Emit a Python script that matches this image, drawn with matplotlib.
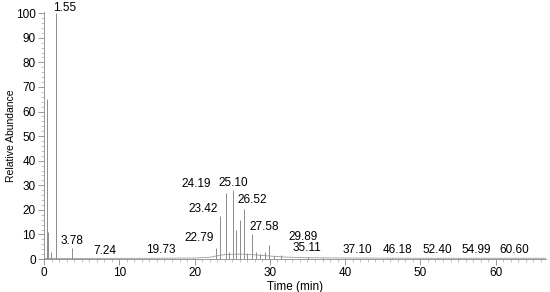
import matplotlib
matplotlib.use('Agg')
import matplotlib.pyplot as plt
from matplotlib.ticker import MultipleLocator

plt.rcParams['font.family'] = ['Liberation Sans', 'DejaVu Sans']

# peak retention times (min) and relative abundance (%)
peak_rt = [0.40, 0.50, 0.90, 1.55, 3.78, 7.24, 19.73, 22.79, 23.42, 24.19, 24.60,
           25.10, 25.50, 26.10, 26.52, 27.00, 27.58, 28.20, 28.70, 29.30, 29.89,
           30.60, 31.50, 35.11, 37.10, 46.18, 52.40, 54.99, 60.60]
peak_height = [65, 11, 3, 100, 4.5, 0.6, 0.6, 4.5, 17.5, 27, 3,
               28, 12, 16, 20.5, 2.5, 10, 3, 2, 3, 5.7,
               1.2, 1.5, 0.7, 0.5, 0.3, 0.3, 0.3, 0.3]

# baseline hump under the cluster
base_t = [0, 15, 20, 22, 23, 24, 26, 28, 30, 32, 35, 40, 50, 66.7]
base_y = [0.2, 0.3, 0.4, 0.7, 1.3, 1.8, 2.0, 1.7, 1.2, 0.8, 0.5, 0.4, 0.3, 0.3]

# peak labels and where they sit (data coords, bottom-centre of text)
label_text = ['1.55', '3.78', '7.24', '19.73', '22.79', '23.42', '24.19', '25.10',
              '26.52', '27.58', '29.89', '35.11', '37.10', '46.18', '52.40', '54.99', '60.60']
label_x = [2.7, 3.7, 8.1, 15.5, 20.6, 21.2, 20.2, 25.1,
           27.6, 29.2, 34.4, 34.9, 41.6, 46.9, 52.2, 57.4, 62.5]
label_y = [99.6, 4.9, 0.8, 1.2, 6.1, 17.9, 28.0, 28.5,
           21.5, 10.6, 6.5, 2.0, 1.2, 1.2, 1.2, 1.2, 1.2]

fig = plt.figure(figsize=(5.5, 2.92), dpi=100)
ax = fig.add_axes([0.08, 0.113, 0.913, 0.846])

ax.plot(base_t, base_y, color='#9a9a9a', lw=0.6)
ax.vlines(peak_rt, 0, peak_height, color='#8c8c8c', lw=0.7)

for t, x, y in zip(label_text, label_x, label_y):
    ax.text(x, y, t, ha='center', va='bottom', fontsize=8.5, clip_on=False)

ax.set_xlim(0, 66.7)
ax.set_ylim(0, 100.5)
ax.xaxis.set_major_locator(MultipleLocator(10))
ax.xaxis.set_minor_locator(MultipleLocator(1))
ax.yaxis.set_major_locator(MultipleLocator(10))
ax.yaxis.set_minor_locator(MultipleLocator(2))
ax.tick_params(which='major', length=4, width=0.6, color='#888888', labelsize=8.5, pad=2)
ax.tick_params(which='minor', length=2, width=0.5, color='#aaaaaa')
for s in ['top', 'right']:
    ax.spines[s].set_visible(False)
for s in ['left', 'bottom']:
    ax.spines[s].set_color('#888888')
    ax.spines[s].set_linewidth(0.6)

ax.set_xlabel('Time (min)', fontsize=8.5, labelpad=1)
ax.set_ylabel('Relative Abundance', fontsize=7.5, labelpad=0)

fig.savefig('out.png', dpi=100)
plt.close(fig)
